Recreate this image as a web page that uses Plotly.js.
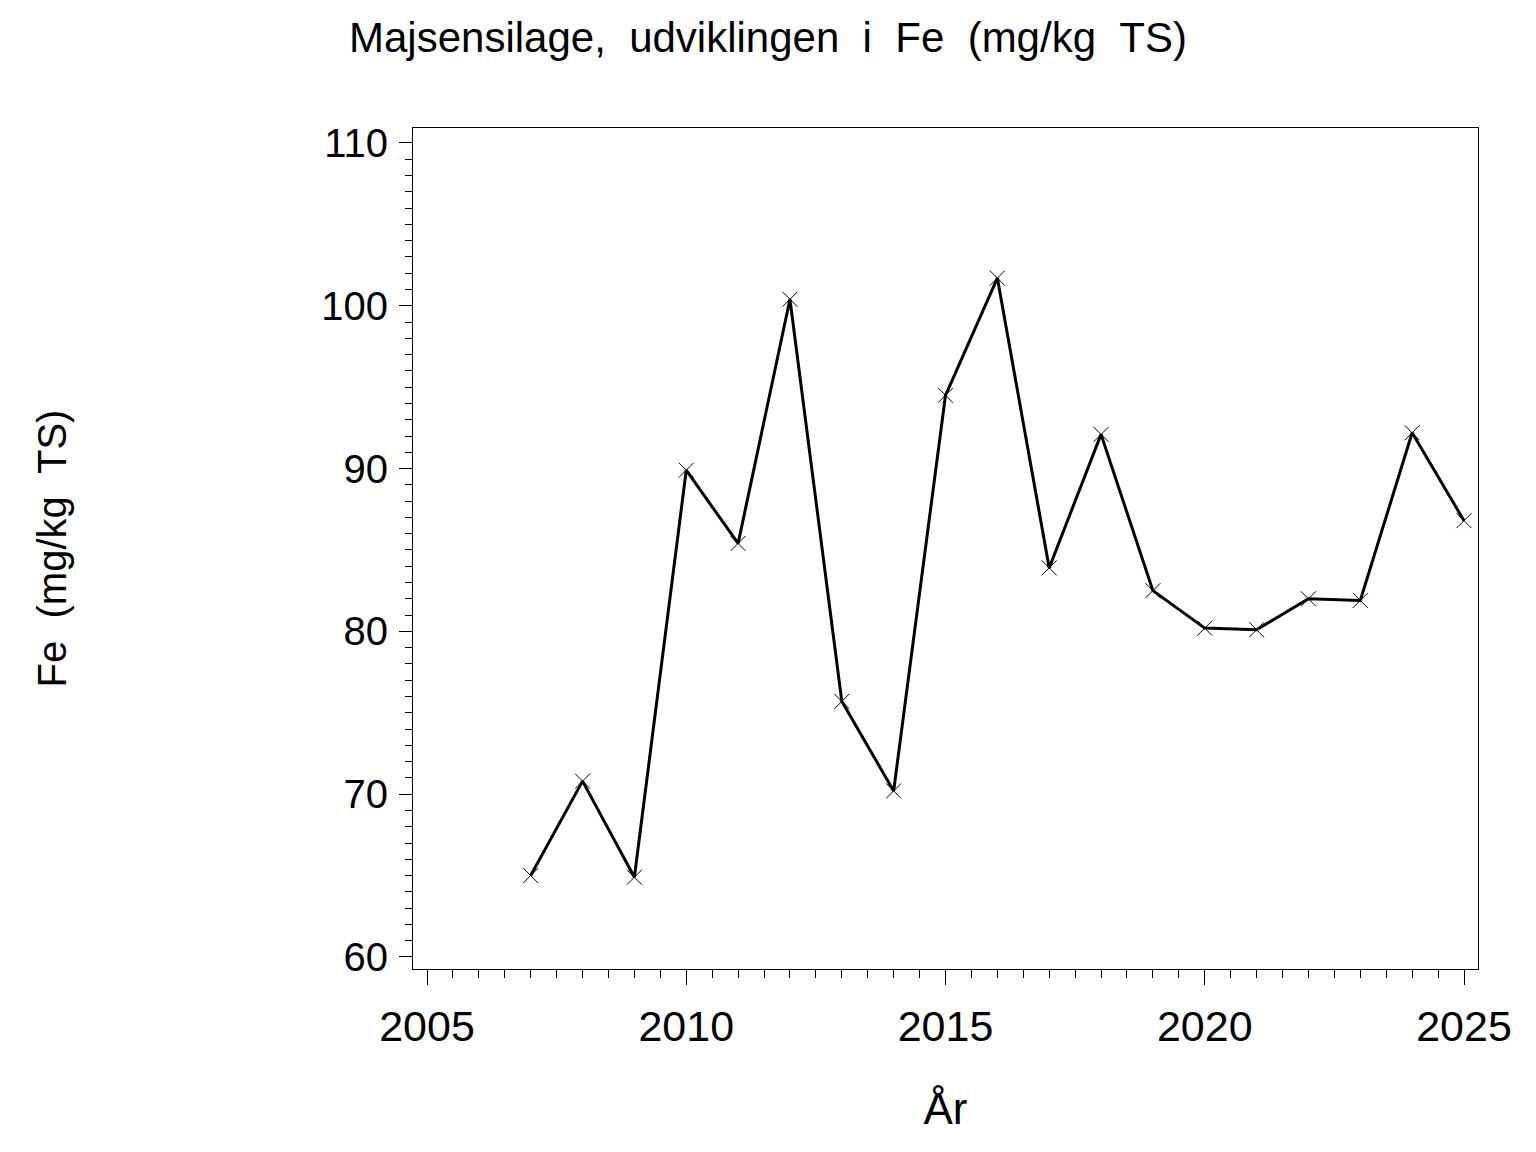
<!DOCTYPE html>
<html>
<head>
<meta charset="utf-8">
<script src="https://cdn.plot.ly/plotly-3.0.1.min.js"></script>
<style>html,body{margin:0;padding:0;background:#fff;}#chart{width:1536px;height:1152px;}</style>
</head>
<body>
<div id="chart"></div>
<script>
const years = [2007, 2008, 2009, 2010, 2011, 2012, 2013, 2014, 2015, 2016, 2017, 2018, 2019, 2020, 2021, 2022, 2023, 2024, 2025];
const feValues = [65.0, 70.8, 64.9, 89.9, 85.4, 100.4, 75.7, 70.2, 94.5, 101.7, 83.9, 92.1, 82.5, 80.2, 80.1, 82.0, 81.9, 92.2, 86.8];
const xTickVals = [2005, 2010, 2015, 2020, 2025];
const yTickVals = [60, 70, 80, 90, 100, 110];
const chartTitle = "Majsensilage,\u00a0\u00a0udviklingen\u00a0\u00a0i\u00a0\u00a0Fe\u00a0\u00a0(mg/kg\u00a0\u00a0TS)";
const yTitle = "Fe\u00a0\u00a0(mg/kg\u00a0\u00a0TS)";
const xTitle = "År";

const font = "Liberation Sans, Arial, sans-serif";

const trace = {
  x: years,
  y: feValues,
  type: "scatter",
  mode: "lines+markers",
  line: {color: "#000", width: 3},
  marker: {symbol: "x-thin-open", size: 15, color: "#000", line: {color: "#000", width: 1}},
  hoverinfo: "x+y"
};

const layout = {
  width: 1536,
  height: 1152,
  paper_bgcolor: "#fff",
  plot_bgcolor: "#fff",
  showlegend: false,
  margin: {l: 413, r: 58, t: 128, b: 183, pad: 0},
  title: {text: chartTitle, font: {family: font, size: 42, color: "#000"}, x: 0.5, xanchor: "center", xref: "container", y: 1 - 52/1152, yanchor: "bottom", yref: "container"},
  xaxis: {
    range: [2004.73, 2025.27],
    tickmode: "array",
    tickvals: xTickVals,
    ticktext: xTickVals.map(String),
    ticks: "outside",
    ticklen: 15,
    tickwidth: 1,
    tickcolor: "#000",
    ticklabelstandoff: 4,
    minor: {dtick: 0.5, tick0: 2005, ticks: "outside", ticklen: 8, tickwidth: 1, tickcolor: "#000"},
    showgrid: false,
    zeroline: false,
    showline: true,
    linecolor: "#000",
    linewidth: 1,
    mirror: true,
    tickfont: {family: font, size: 43, color: "#000"},
    title: {text: xTitle, font: {family: font, size: 44, color: "#000"}, standoff: 44},
    automargin: false
  },
  yaxis: {
    range: [59.26, 110.92],
    tickmode: "array",
    tickvals: yTickVals,
    ticktext: yTickVals.map(String),
    ticks: "outside",
    ticklen: 13,
    tickwidth: 1,
    tickcolor: "#000",
    ticklabelstandoff: 3,
    minor: {dtick: 1, tick0: 60, ticks: "outside", ticklen: 7, tickwidth: 1, tickcolor: "#000"},
    showgrid: false,
    zeroline: false,
    showline: true,
    linecolor: "#000",
    linewidth: 1,
    mirror: true,
    tickfont: {family: font, size: 40, color: "#000"},
    title: {text: yTitle, font: {family: font, size: 40, color: "#000"}, standoff: 242},
    automargin: false
  }
};

Plotly.newPlot("chart", [trace], layout, {displayModeBar: false, staticPlot: true});
</script>
</body>
</html>
